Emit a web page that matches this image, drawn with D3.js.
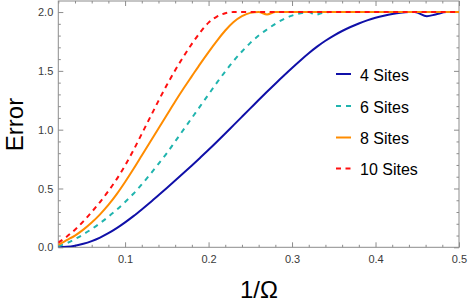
<!DOCTYPE html>
<html>
<head>
<meta charset="utf-8">
<script src="https://cdn.jsdelivr.net/npm/d3@7"></script>
<style>
  html, body { margin: 0; padding: 0; background: #fff; }
  svg { display: block; font-family: "Liberation Sans", Arial, sans-serif; }
</style>
</head>
<body>
<svg id="chart" width="469" height="305"></svg>
<script>
// ---- data ----
const seriesNames = ["4 Sites", "6 Sites", "8 Sites", "10 Sites"];

const x4 = [0.02,0.03,0.04,0.05,0.06,0.07,0.08,0.09,0.10,0.11,0.12,0.13,0.14,0.15,0.16,0.17,0.18,0.19,0.20,0.21,0.22,0.23,0.24,0.25,0.26,0.27,0.28,0.29,0.30,0.31,0.32,0.33,0.34,0.35,0.36,0.37,0.38,0.39,0.40,0.41,0.42,0.43,0.44,0.447,0.4615,0.472,0.485,0.50];
const y4 = [0,0.004,0.014,0.03,0.053,0.083,0.12,0.163,0.212,0.265,0.322,0.381,0.442,0.504,0.567,0.631,0.696,0.762,0.829,0.898,0.968,1.039,1.11,1.181,1.252,1.322,1.391,1.459,1.525,1.589,1.65,1.706,1.756,1.8,1.839,1.873,1.903,1.929,1.951,1.969,1.984,1.995,2.0,2.0,1.965,1.98,2.0,2.0];

const x6 = [0.02,0.03,0.04,0.05,0.06,0.07,0.08,0.09,0.10,0.11,0.12,0.13,0.14,0.15,0.16,0.17,0.18,0.19,0.20,0.21,0.22,0.23,0.24,0.25,0.26,0.27,0.28,0.29,0.30,0.31,0.32,0.328,0.336,0.345,0.50];
const y6 = [0.01,0.035,0.07,0.11,0.155,0.205,0.26,0.32,0.385,0.455,0.535,0.62,0.71,0.8,0.9,1.0,1.1,1.2,1.3,1.4,1.495,1.585,1.665,1.738,1.8,1.852,1.9,1.94,1.97,1.99,2.0,1.977,1.992,2.0,2.0];

const x8 = [0.02,0.03,0.04,0.05,0.06,0.07,0.08,0.09,0.10,0.11,0.12,0.13,0.14,0.15,0.16,0.17,0.18,0.19,0.20,0.21,0.22,0.23,0.24,0.25,0.26,0.27,0.28,0.50];
const y8 = [0.02,0.06,0.1,0.15,0.21,0.28,0.36,0.452,0.555,0.665,0.78,0.895,1.01,1.125,1.24,1.35,1.455,1.56,1.66,1.755,1.843,1.915,1.965,1.993,2.0,1.98,2.0,2.0];

const x10 = [0.02,0.03,0.04,0.05,0.06,0.07,0.08,0.09,0.10,0.11,0.12,0.13,0.14,0.15,0.16,0.17,0.18,0.19,0.20,0.21,0.22,0.23,0.50];
const y10 = [0.04,0.09,0.15,0.22,0.3,0.385,0.478,0.58,0.695,0.825,0.965,1.105,1.245,1.38,1.505,1.622,1.73,1.828,1.91,1.962,1.99,2.0,2.0];

const xTickLabels = ["0.1","0.2","0.3","0.4","0.5"];
const yTickLabels = ["0.0","0.5","1.0","1.5","2.0"];

const colors = ["#1010a8", "#20b4ae", "#ff8c00", "#ff1010"];
const dashes = [null, "5,5", null, "5,4.5"];

// ---- layout ----
const svg = d3.select("#chart");
const L = 58.3, R = 459, T = 1, B = 247.3;
const x = d3.scaleLinear().domain([0.02, 0.5]).range([L, R]);
const y = d3.scaleLinear().domain([0, 2.094]).range([B, T]);

const xMajor = xTickLabels.map(Number);
const yMajor = yTickLabels.map(Number);
const xMinor = d3.range(0.02, 0.5001, 0.02).filter(v => !xMajor.some(m => Math.abs(m - v) < 1e-6));
const yMinor = d3.range(0, 2.0901, 0.1).filter(v => !yMajor.some(m => Math.abs(m - v) < 1e-6));

const frameColor = "#8c8c8c";
const labelColor = "#3a3a3a";

function styleAxis(g) {
  g.select(".domain").remove();
  g.selectAll(".tick line").attr("stroke", frameColor).attr("stroke-width", 1);
  g.selectAll(".tick text").attr("fill", labelColor).style("font-size", "11px");
}

// bottom
svg.append("g").attr("transform", `translate(0,${B})`)
  .call(d3.axisBottom(x).tickValues(xMajor).tickFormat((d, i) => xTickLabels[i]).tickSize(-5).tickSizeOuter(0).tickPadding(8))
  .call(styleAxis);
svg.append("g").attr("transform", `translate(0,${B})`)
  .call(d3.axisBottom(x).tickValues(xMinor).tickFormat("").tickSize(-2.5).tickSizeOuter(0))
  .call(styleAxis);
// top
svg.append("g").attr("transform", `translate(0,${T})`)
  .call(d3.axisTop(x).tickValues(xMajor).tickFormat("").tickSize(-5).tickSizeOuter(0))
  .call(styleAxis);
svg.append("g").attr("transform", `translate(0,${T})`)
  .call(d3.axisTop(x).tickValues(xMinor).tickFormat("").tickSize(-2.5).tickSizeOuter(0))
  .call(styleAxis);
// left
svg.append("g").attr("transform", `translate(${L},0)`)
  .call(d3.axisLeft(y).tickValues(yMajor).tickFormat((d, i) => yTickLabels[i]).tickSize(-5).tickSizeOuter(0).tickPadding(5))
  .call(styleAxis);
svg.append("g").attr("transform", `translate(${L},0)`)
  .call(d3.axisLeft(y).tickValues(yMinor).tickFormat("").tickSize(-2.5).tickSizeOuter(0))
  .call(styleAxis);
// right
svg.append("g").attr("transform", `translate(${R},0)`)
  .call(d3.axisRight(y).tickValues(yMajor).tickFormat("").tickSize(-5).tickSizeOuter(0))
  .call(styleAxis);
svg.append("g").attr("transform", `translate(${R},0)`)
  .call(d3.axisRight(y).tickValues(yMinor).tickFormat("").tickSize(-2.5).tickSizeOuter(0))
  .call(styleAxis);

// frame
svg.append("rect").attr("x", L).attr("y", T).attr("width", R - L).attr("height", B - T)
  .attr("fill", "none").attr("stroke", frameColor).attr("stroke-width", 1);

// clip
svg.append("clipPath").attr("id", "clip").append("rect")
  .attr("x", L).attr("y", T).attr("width", R - L).attr("height", B - T);

const series = [
  { xs: x4, ys: y4 },
  { xs: x6, ys: y6 },
  { xs: x8, ys: y8 },
  { xs: x10, ys: y10 }
];

const line = d3.line().x(d => x(d[0])).y(d => y(d[1])).curve(d3.curveMonotoneX);

const plot = svg.append("g").attr("clip-path", "url(#clip)");
series.forEach((s, i) => {
  const pts = s.xs.map((v, j) => [v, s.ys[j]]);
  plot.append("path").datum(pts)
    .attr("d", line)
    .attr("fill", "none")
    .attr("stroke", colors[i])
    .attr("stroke-width", 2)
    .attr("stroke-dasharray", dashes[i]);
});

// legend
const legendY = [74, 106, 137.5, 168.5];
const leg = svg.append("g");
seriesNames.forEach((name, i) => {
  leg.append("line")
    .attr("x1", 336).attr("x2", 351)
    .attr("y1", legendY[i]).attr("y2", legendY[i])
    .attr("stroke", colors[i]).attr("stroke-width", 2)
    .attr("stroke-dasharray", dashes[i]);
  leg.append("text")
    .attr("x", 360).attr("y", legendY[i] + 6.5)
    .attr("fill", "#000")
    .style("font-size", "16px")
    .text(name);
});

// axis titles
svg.append("text")
  .attr("transform", `translate(23,124.5) rotate(-90)`)
  .attr("text-anchor", "middle")
  .style("font-size", "24px")
  .attr("fill", "#000")
  .text("Error");

svg.append("text")
  .attr("x", 259).attr("y", 298)
  .attr("text-anchor", "middle")
  .style("font-size", "24px")
  .attr("fill", "#000")
  .text("1/Ω");
</script>
</body>
</html>
